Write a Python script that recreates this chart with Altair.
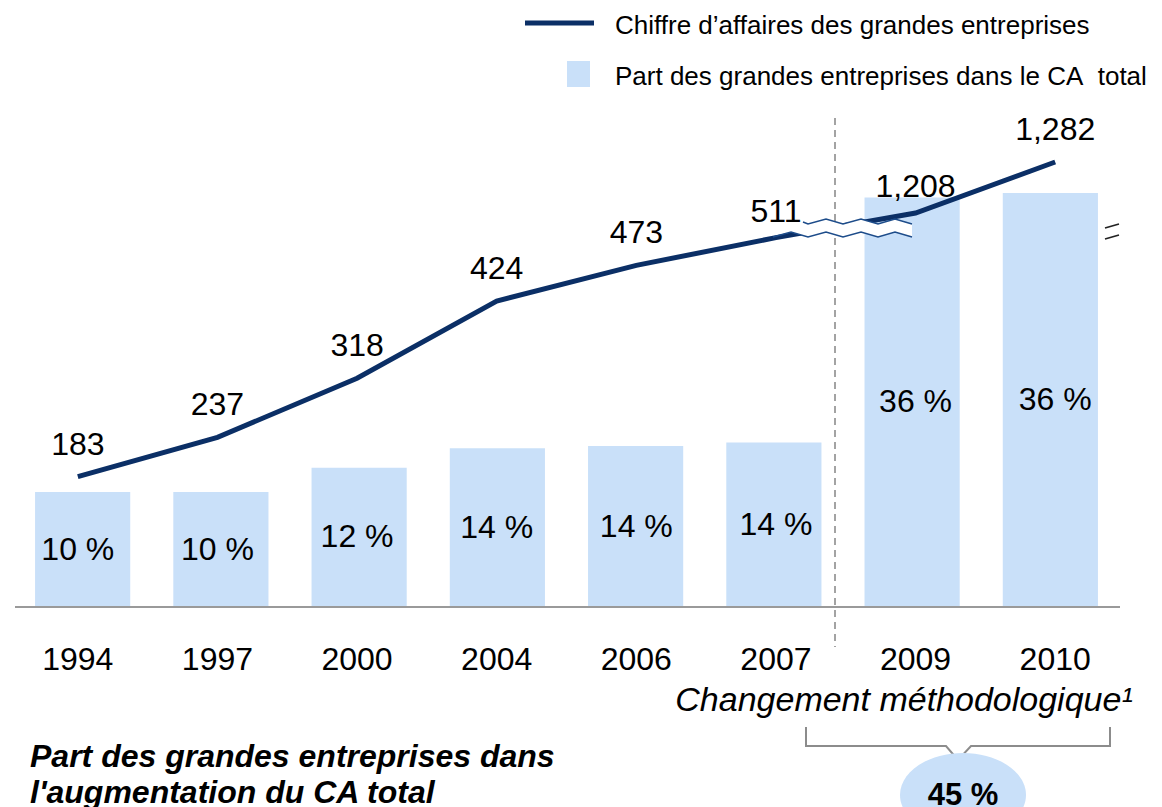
import altair as alt
import pandas as pd

# ---------------- data ----------------
years = ["1994", "1997", "2000", "2004", "2006", "2007", "2009", "2010"]
revenue = [183, 237, 318, 424, 473, 511, 1208, 1282]          # CA des grandes entreprises
share = [10.0, 10.0, 12.1, 13.8, 14.0, 14.3, 35.6, 36.0]       # part dans le CA total (%)
break_years = ["2007", "2009"]                                  # points next to the axis break

legend_labels = ["Chiffre d’affaires des grandes entreprises",
                 "Part des grandes entreprises dans le CA\u00a0 total"]
note_text = ["Changement méthodologique¹"]
subtitle_lines = ["Part des grandes entreprises dans", "l'augmentation du CA total"]
increase_share = ["45 %"]

# ---------------- style ----------------
NAVY = "#0B2F66"
LIGHT = "#C9E0F9"
GREY = "#A3A3A3"
FONT = "Liberation Sans"
W, H = 1117, 799
OX, OY = 8, 8          # page position of the plot origin


def px(v):
    return [a - OX for a in v]


def py(v):
    return [a - OY for a in v]


df = pd.DataFrame({"year": years, "ca": revenue, "share": share})

xband = alt.Scale(domain=years, paddingInner=0.3116, paddingOuter=0.1957)


def X():
    return alt.X("year:N", scale=xband, axis=None)


share_scale = alt.Scale(domain=[0, 50], range=[599, 24], nice=False, zero=False)
# broken axis: piecewise linear scale (compressed between 520 and 1200)
ca_scale = alt.Scale(domain=[0, 520, 1200, 1300], range=[602, 223.1, 210.5, 141.6],
                     nice=False, zero=False)

bars = alt.Chart(df).mark_bar(color=LIGHT).encode(
    x=X(), y=alt.Y("share:Q", scale=share_scale, axis=None))

bar_labels = alt.Chart(df).transform_calculate(
    mid="datum.share / 2",
    lbl="format(datum.share, '.0f') + ' %'"
).mark_text(font=FONT, fontSize=32, color="black", baseline="middle").encode(
    x=X(), y=alt.Y("mid:Q", scale=share_scale, axis=None), text="lbl:N")

line = alt.Chart(df).mark_line(color=NAVY, strokeWidth=5).encode(
    x=X(), y=alt.Y("ca:Q", scale=ca_scale, axis=None))

brk_filter = alt.FieldOneOfPredicate(field="year", oneOf=break_years)
line_labels = alt.Chart(df).transform_filter(~brk_filter).mark_text(
    font=FONT, fontSize=32, color="black", baseline="alphabetic", dy=-22).encode(
    x=X(), y=alt.Y("ca:Q", scale=ca_scale, axis=None),
    text=alt.Text("ca:Q", format=",d"))
line_labels_brk = alt.Chart(df).transform_filter(brk_filter).mark_text(
    font=FONT, fontSize=32, color="black", baseline="alphabetic", dy=-16).encode(
    x=X(), y=alt.Y("ca:Q", scale=ca_scale, axis=None),
    text=alt.Text("ca:Q", format=",d"))

year_labels = alt.Chart(df).mark_text(
    font=FONT, fontSize=32, color="black", baseline="alphabetic").encode(
    x=X(), y=alt.value(670 - OY), text="year:N")

# ---------------- decorations ----------------
one = pd.DataFrame({"k": [0]})

baseline = alt.Chart(one).mark_rule(color="#9A9A9A", strokeWidth=2).encode(
    x=alt.value(15 - OX), x2=alt.value(1120 - OX), y=alt.value(607 - OY))

sep = alt.Chart(one).mark_rule(color=GREY, strokeWidth=2, strokeDash=[7, 5]).encode(
    x=alt.value(835 - OX), y=alt.value(118 - OY), y2=alt.value(647 - OY))

# axis-break zigzags
zz_x = [791, 808, 826, 843, 861, 878, 895, 912]
zz_up = [219, 224, 219, 224, 219, 224, 219, 224]
zz_lo = [232, 237, 232, 237, 232, 237, 232, 237]
band_df = pd.DataFrame({"x": px(zz_x), "y": py(zz_up), "y2": py(zz_lo)})
white_band = alt.Chart(band_df).mark_area(color="white", opacity=1).encode(
    x=alt.X("x:Q", scale=None), y=alt.Y("y:Q", scale=None), y2="y2:Q")

up_df = pd.DataFrame({"x": px([803] + zz_x[1:]), "y": py([222] + zz_up[1:])})
lo_df = pd.DataFrame({"x": px([773] + zz_x), "y": py([237] + zz_lo)})
zig_up = alt.Chart(up_df).mark_line(color="#1D4C8A", strokeWidth=1.6).encode(
    x=alt.X("x:Q", scale=None), y=alt.Y("y:Q", scale=None))
zig_lo = alt.Chart(lo_df).mark_line(color="#1D4C8A", strokeWidth=1.6).encode(
    x=alt.X("x:Q", scale=None), y=alt.Y("y:Q", scale=None))

eq_df = pd.DataFrame({"x": px([1105, 1105]), "x2": px([1119, 1119]),
                      "y": py([228, 239]), "y2": py([224, 235])})
eq_break = alt.Chart(eq_df).mark_rule(color="#222222", strokeWidth=1.6).encode(
    x=alt.X("x:Q", scale=None), x2="x2:Q", y=alt.Y("y:Q", scale=None), y2="y2:Q")

# legend
leg_line = alt.Chart(one).mark_rule(color=NAVY, strokeWidth=5).encode(
    x=alt.value(525 - OX), x2=alt.value(594 - OX), y=alt.value(23 - OY))
leg_box = alt.Chart(one).mark_rect(color=LIGHT).encode(
    x=alt.value(567 - OX), x2=alt.value(590 - OX), y=alt.value(61 - OY), y2=alt.value(87 - OY))
leg_text = alt.Chart(pd.DataFrame({"t": legend_labels, "y": py([34, 85])})).mark_text(
    font=FONT, fontSize=26, color="black", align="left", baseline="alphabetic").encode(
    x=alt.value(615 - OX), y=alt.Y("y:Q", scale=None), text="t:N")

note = alt.Chart(pd.DataFrame({"t": note_text})).mark_text(
    font=FONT, fontSize=34, fontStyle="italic", color="black", align="center",
    baseline="alphabetic").encode(x=alt.value(904 - OX), y=alt.value(711 - OY), text="t:N")

# bracket
br_df = pd.DataFrame({"i": list(range(7)),
                      "x": px([806, 806, 946, 958, 971, 1110, 1110]),
                      "y": py([727, 746, 746, 760, 746, 746, 727])})
bracket = alt.Chart(br_df).mark_line(color="#8C8C8C", strokeWidth=2).encode(
    x=alt.X("x:Q", scale=None), y=alt.Y("y:Q", scale=None), order="i:Q")

# ellipse (custom symbol, rx = 1, ry = 0.667, cubic bezier)
k, ry = 0.5523, 0.667
ell_path = (f"M1,0C1,{k*ry:.3f},{k:.3f},{ry},0,{ry}"
            f"C{-k:.3f},{ry},-1,{k*ry:.3f},-1,0"
            f"C-1,{-k*ry:.3f},{-k:.3f},{-ry},0,{-ry}"
            f"C{k:.3f},{-ry},1,{-k*ry:.3f},1,0Z")
ellipse = alt.Chart(one).mark_point(shape=ell_path, filled=True, color=LIGHT,
                                    opacity=1, strokeWidth=0).encode(
    x=alt.value(963 - OX), y=alt.value(795 - OY), size=alt.value(126 * 126))
ell_text = alt.Chart(pd.DataFrame({"t": increase_share})).mark_text(
    font=FONT, fontSize=31, fontWeight="bold", color="black", baseline="alphabetic").encode(
    x=alt.value(963 - OX), y=alt.value(805 - OY), text="t:N")

subtitle = alt.Chart(pd.DataFrame({"t": subtitle_lines, "y": py([767, 803])})).mark_text(
    font=FONT, fontSize=32, fontWeight="bold", fontStyle="italic", color="black",
    align="left", baseline="alphabetic").encode(
    x=alt.value(30 - OX), y=alt.Y("y:Q", scale=None), text="t:N")

chart = alt.layer(
    bars, baseline, sep, line, white_band, zig_up, zig_lo, eq_break,
    bar_labels, line_labels, line_labels_brk, year_labels,
    leg_line, leg_box, leg_text, note, bracket, ellipse, ell_text, subtitle
).resolve_scale(x="independent", y="independent").properties(
    width=W, height=H,
    autosize=alt.AutoSizeParams(type="none"),
    padding={"left": 0, "top": 0, "right": 29, "bottom": 0},
    background="white",
).configure_view(stroke=None)

chart.save("out.html", embed_options={"renderer": "svg", "actions": False})
